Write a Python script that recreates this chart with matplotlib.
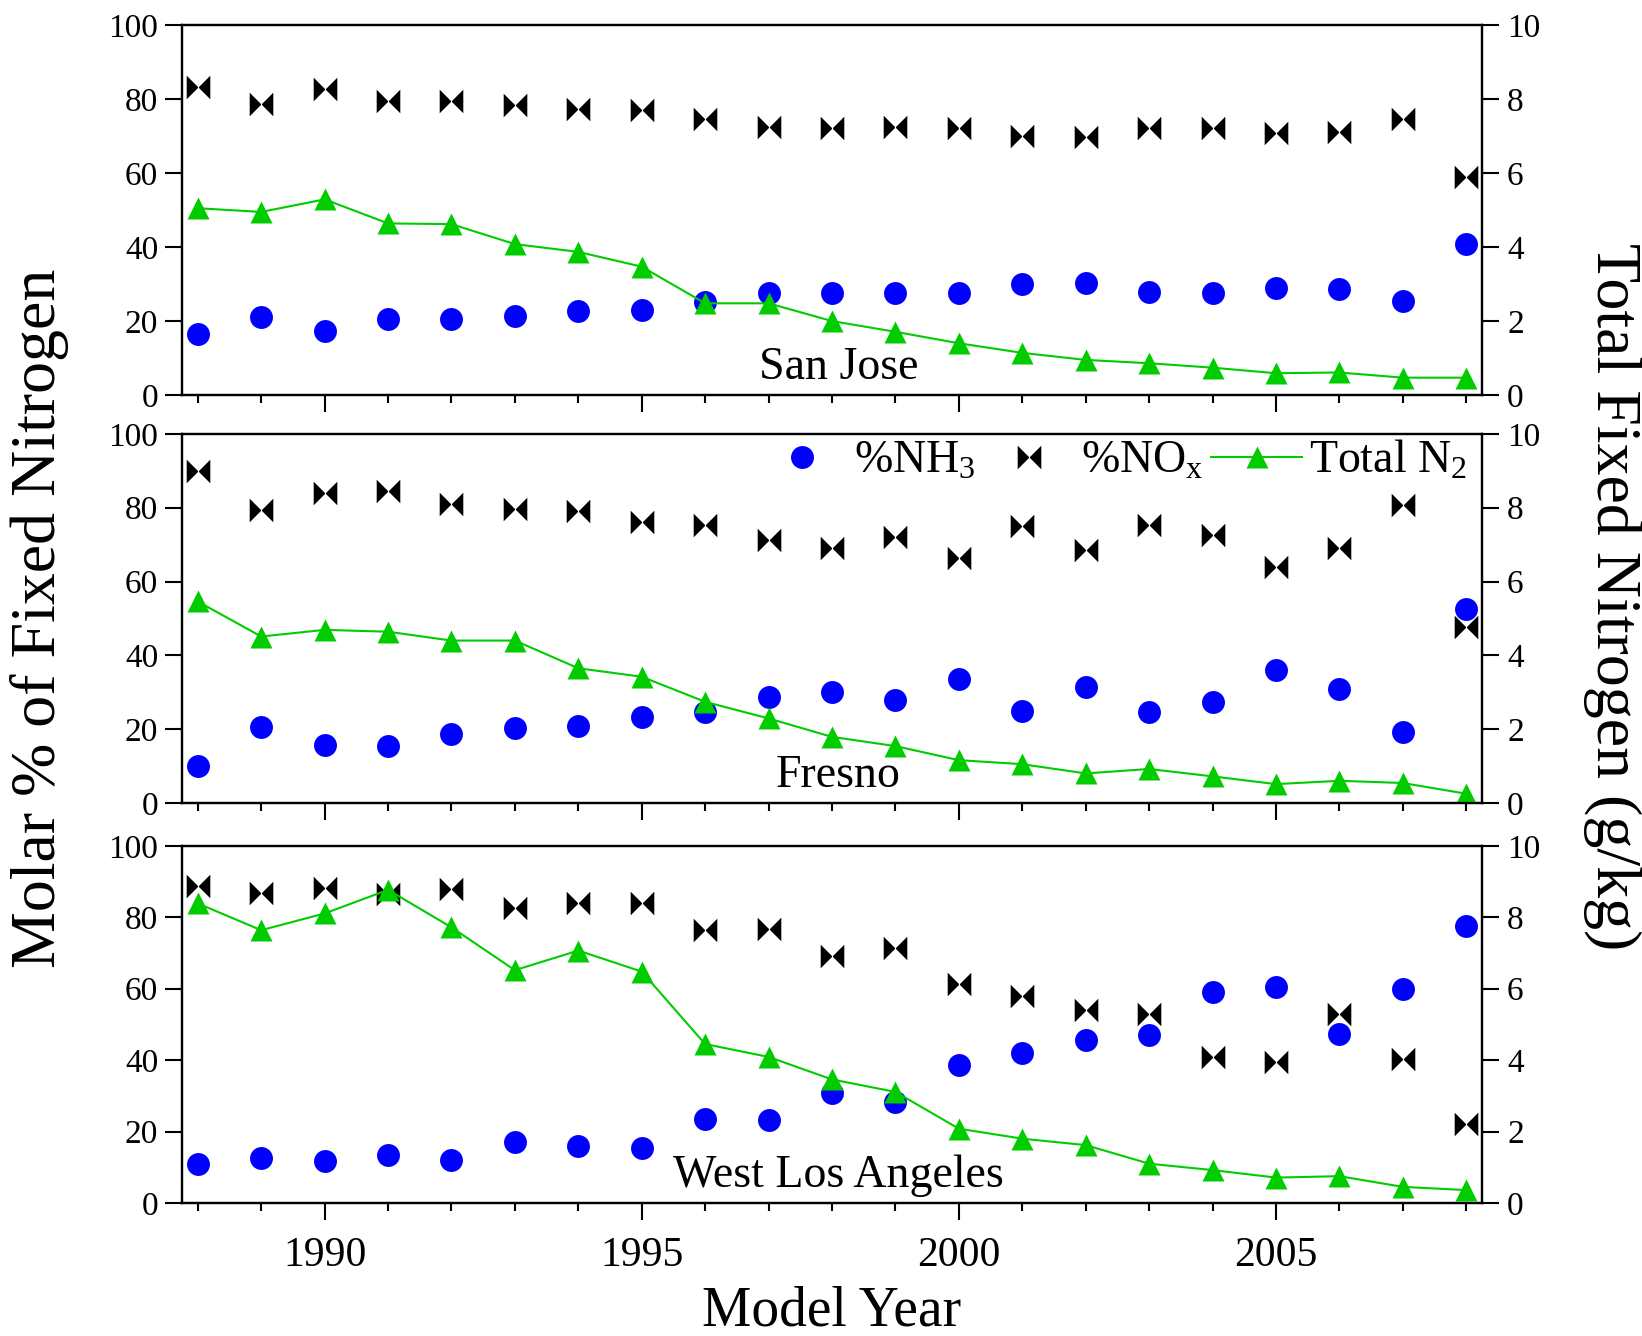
import matplotlib
matplotlib.use('Agg')
from matplotlib import pyplot as plt
from matplotlib.path import Path
from matplotlib.ticker import MultipleLocator

plt.rcParams['font.family'] = ['Liberation Serif', 'DejaVu Serif']
plt.rcParams['mathtext.default'] = 'regular'

years = list(range(1988, 2009))

# San Jose
sj_nh3 = [16.4, 21.2, 17.3, 20.5, 20.5, 21.5, 22.6, 23.0, 25.2, 27.5,
          27.7, 27.5, 27.7, 29.9, 30.2, 27.8, 27.7, 29.0, 28.7, 25.4, 40.8]
sj_nox = [83.3, 78.6, 82.6, 79.5, 79.5, 78.3, 77.2, 77.0, 74.5, 72.5,
          72.3, 72.5, 72.3, 70.0, 69.8, 72.1, 72.3, 70.9, 71.2, 74.5, 59.0]
sj_total = [5.05, 4.95, 5.29, 4.64, 4.62, 4.08, 3.87, 3.47, 2.48, 2.48,
            2.00, 1.71, 1.40, 1.14, 0.95, 0.86, 0.74, 0.59, 0.61, 0.47, 0.47]

# Fresno
fr_nh3 = [10.0, 20.5, 15.8, 15.4, 18.6, 20.4, 20.8, 23.3, 24.7, 28.8,
          30.1, 27.8, 33.5, 25.0, 31.3, 24.7, 27.4, 36.0, 30.9, 19.3, 52.5]
fr_nox = [89.9, 79.3, 84.0, 84.4, 81.1, 79.6, 79.0, 76.2, 75.4, 71.3,
          69.0, 72.2, 66.5, 75.1, 68.6, 75.4, 72.7, 63.9, 69.0, 80.8, 47.6]
fr_total = [5.46, 4.51, 4.69, 4.64, 4.40, 4.40, 3.65, 3.42, 2.74, 2.29,
            1.79, 1.54, 1.16, 1.05, 0.80, 0.92, 0.72, 0.51, 0.60, 0.54, 0.25]

# West Los Angeles
wla_nh3 = [10.8, 12.7, 11.8, 13.4, 12.0, 17.1, 15.9, 15.5, 23.5, 23.2,
           30.7, 28.3, 38.6, 42.1, 45.6, 47.0, 59.0, 60.4, 47.2, 59.8, 77.6]
wla_nox = [88.9, 86.9, 88.1, 86.5, 87.9, 82.7, 83.9, 84.1, 76.4, 76.6,
           69.2, 71.3, 61.2, 57.9, 54.0, 52.8, 40.9, 39.5, 52.8, 40.2, 22.2]
wla_total = [8.39, 7.64, 8.11, 8.77, 7.72, 6.52, 7.07, 6.48, 4.45, 4.09,
             3.46, 3.11, 2.08, 1.80, 1.62, 1.10, 0.92, 0.71, 0.75, 0.45, 0.36]

sites = ['San Jose', 'Fresno', 'West Los Angeles']
nh3_list = [sj_nh3, fr_nh3, wla_nh3]
nox_list = [sj_nox, fr_nox, wla_nox]
total_list = [sj_total, fr_total, wla_total]

# bowtie marker for NOx
bowtie = Path([(-1, -1), (-1, 1), (0, 0), (-1, -1),
               (1, -1), (1, 1), (0, 0), (1, -1)],
              [Path.MOVETO, Path.LINETO, Path.LINETO, Path.CLOSEPOLY,
               Path.MOVETO, Path.LINETO, Path.LINETO, Path.CLOSEPOLY])

blue = '#0000FF'
green = '#00CC00'

fig = plt.figure(figsize=(16.42, 13.36), dpi=100)

panel_pos = [(0.7043, 0.2769), (0.3990, 0.2762), (0.0996, 0.2672)]

for i, (bottom, height) in enumerate(panel_pos):
  ax = fig.add_axes([0.1108, bottom, 0.7918, height])
  ax2 = ax.twinx()

  h1, = ax.plot(years, nh3_list[i], 'o', color=blue, ms=16.5, mec='none',
                label='%NH$_3$')
  h2, = ax.plot(years, nox_list[i], ls='none', marker=bowtie, color='k',
                ms=17, mec='none', label='%NO$_x$')
  h3, = ax2.plot(years, total_list[i], '-^', color=green, ms=15.5, lw=1.5,
                 mec='none', label='Total N$_2$')

  ax.set_xlim(1987.75, 2008.25)
  ax.set_ylim(0, 100)
  ax2.set_ylim(0, 10)
  ax.yaxis.set_major_locator(MultipleLocator(20))
  ax2.yaxis.set_major_locator(MultipleLocator(2))
  ax.xaxis.set_major_locator(MultipleLocator(5))
  ax.xaxis.set_minor_locator(MultipleLocator(1))

  for a in (ax, ax2):
    for s in a.spines.values():
      s.set_linewidth(1.6)
  ax.tick_params(axis='y', which='major', direction='out', length=12,
                 width=1.5, labelsize=24, pad=5)
  ax2.tick_params(axis='y', which='major', direction='out', length=12,
                  width=1.5, labelsize=24, pad=6)
  ax.tick_params(axis='x', which='major', direction='out', length=12,
                 width=1.5, labelsize=30, pad=12)
  ax.tick_params(axis='x', which='minor', direction='out', length=6,
                 width=1.5)
  if i < 2:
    ax.tick_params(axis='x', labelbottom=False)

  ax.text(0.505, 0.075, sites[i], transform=ax.transAxes, ha='center',
          va='center', fontsize=33)

  if i == 1:
    ax2.legend(handles=[h1, h2, h3], loc='center', ncol=3,
               bbox_to_anchor=(0.677, 0.655),
               bbox_transform=fig.transFigure, frameon=False, fontsize=33,
               handlelength=2.0, handletextpad=0.15, columnspacing=0.15,
               borderpad=0, borderaxespad=0)

fig.text(40 / 1642, 1 - 618 / 1336, 'Molar % of Fixed Nitrogen',
         rotation=90, ha='center', va='center', fontsize=46)
fig.text(1612 / 1642, 1 - 597 / 1336, 'Total Fixed Nitrogen (g/kg)',
         rotation=270, ha='center', va='center', fontsize=46)
fig.text(832 / 1642, 1 - 1311 / 1336, 'Model Year', ha='center',
         va='center', fontsize=40)

fig.savefig('out.png', dpi=100)
